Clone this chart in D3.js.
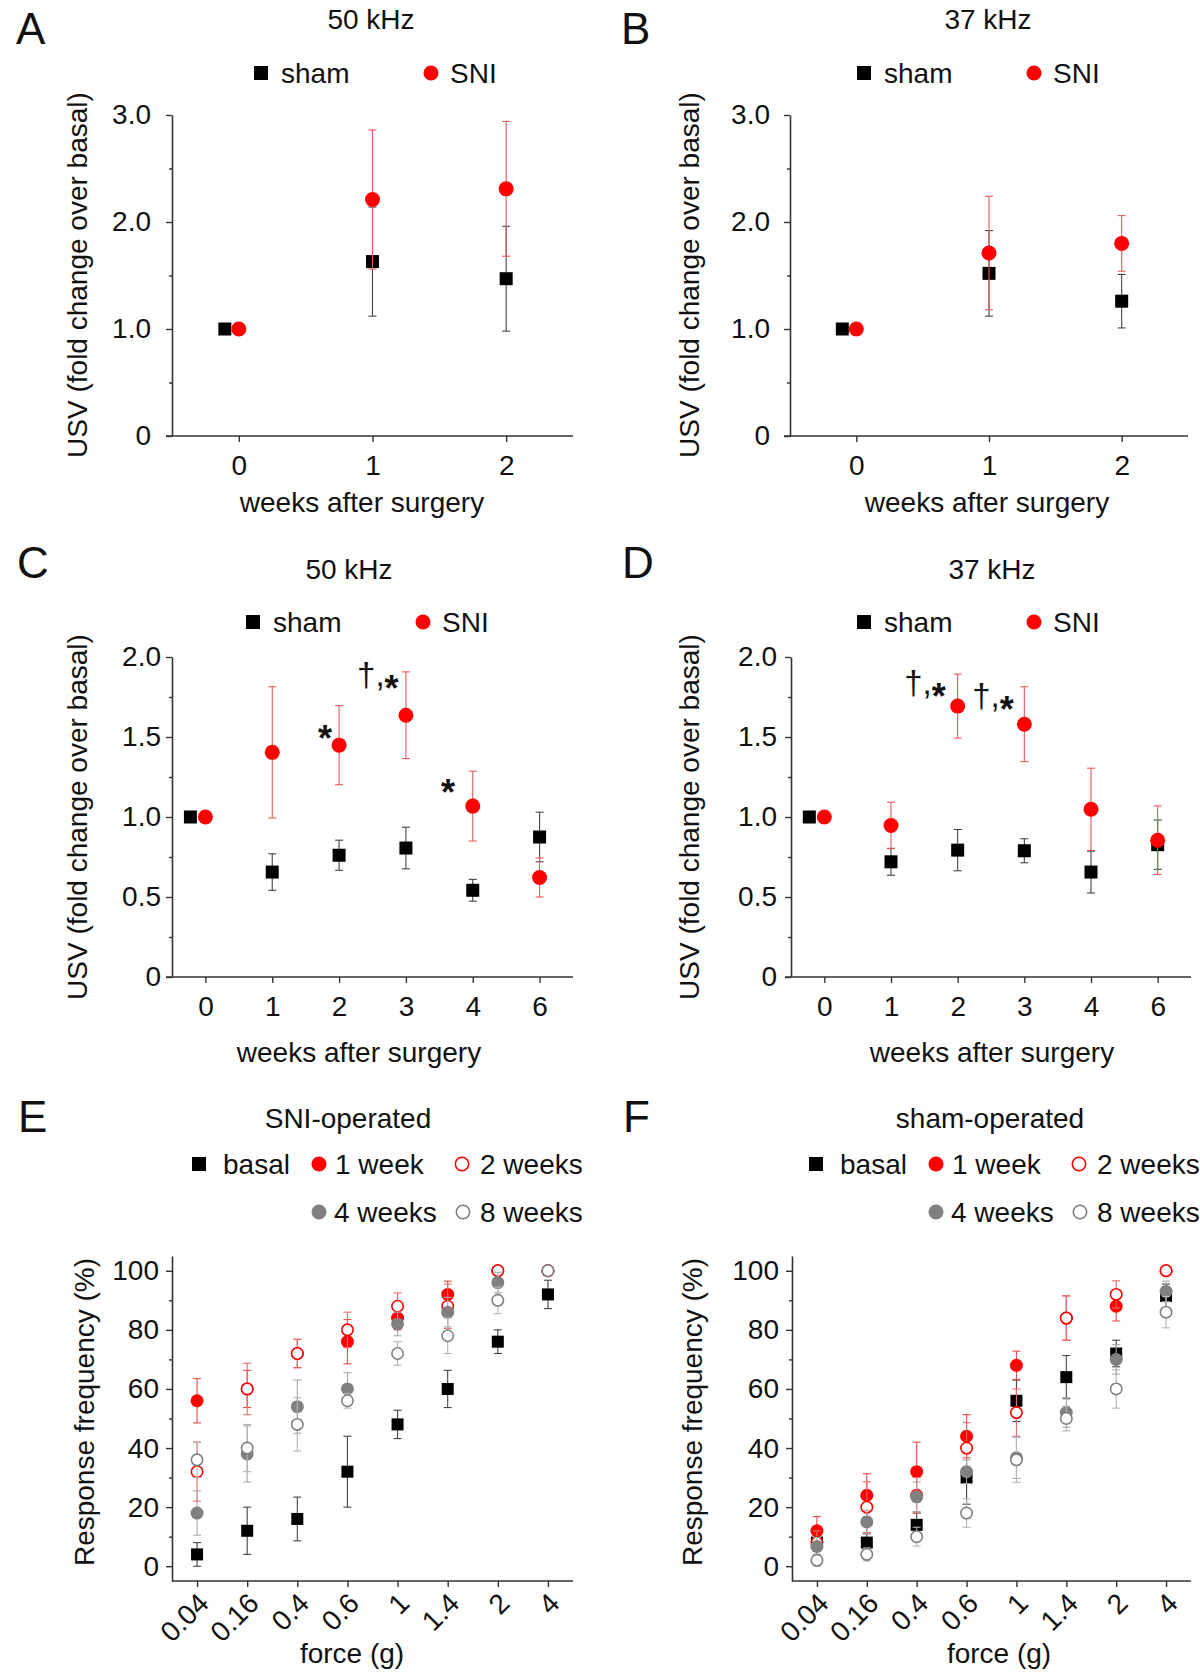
<!DOCTYPE html>
<html><head><meta charset="utf-8">
<script src="https://cdn.jsdelivr.net/npm/d3@7/dist/d3.min.js"></script>
<style>
body{margin:0;background:#fff}
svg{display:block}
text{font-family:"Liberation Sans",Arial,Helvetica,sans-serif;fill:#111}
</style>
</head><body>
<svg id="chart" width="1200" height="1672"></svg>
<script>
// ---------------- DATA ----------------
const weeksAB = ["0","1","2"];
const shamA = [1.00, 1.63, 1.47];
const shamAErr = [0, 0.51, 0.49];
const sniA = [1.00, 2.21, 2.31];
const sniAErr = [0, 0.65, 0.63];

const shamB = [1.00, 1.52, 1.26];
const shamBErr = [0, 0.40, 0.25];
const sniB = [1.00, 1.71, 1.80];
const sniBErr = [0, 0.53, 0.26];

const weeksCD = ["0","1","2","3","4","6"];
const shamC = [1.00, 0.656, 0.761, 0.806, 0.542, 0.875];
const shamCErr = [0, 0.114, 0.094, 0.130, 0.068, 0.155];
const sniC = [1.00, 1.404, 1.449, 1.636, 1.068, 0.622];
const sniCErr = [0, 0.410, 0.247, 0.271, 0.218, 0.122];

const shamD = [1.00, 0.720, 0.793, 0.789, 0.656, 0.827];
const shamDErr = [0, 0.084, 0.129, 0.075, 0.131, 0.154];
const sniD = [1.00, 0.947, 1.693, 1.580, 1.048, 0.855];
const sniDErr = [0, 0.145, 0.200, 0.234, 0.257, 0.214];

const annotC = [
  {cat:"2", off:-0.21, v:1.54, dagger:false},
  {cat:"3", off:-0.42, v:1.86, dagger:true},
  {cat:"4", off:-0.37, v:1.20, dagger:false}
];
const annotD = [
  {cat:"2", off:-0.49, v:1.81, dagger:true},
  {cat:"3", off:-0.47, v:1.73, dagger:true}
];

const forces = ["0.04","0.16","0.4","0.6","1","1.4","2","4"];
// SNI-operated (E)
const basalE = [4, 12, 16, 32, 48, 60, 76, 92];
const basalEErr = [4, 8, 7.4, 12, 4.8, 6.3, 4, 4.8];
const wk1E = [56, 60, 72, 76, 84, 92, 100, 100];
const wk1EErr = [7.5, 6.3, 4.8, 7.5, 4, 4.5, 0, 0];
const wk2E = [32, 60, 72, 80, 88, 88, 100, 100];
const wk2EErr = [10, 8.7, 4.8, 6, 4.5, 7.5, 0, 0];
const wk4E = [18, 38, 54, 60, 82, 86, 96, 100];
const wk4EErr = [7.5, 9.5, 9, 5.5, 4, 5, 3.5, 0];
const wk8E = [36, 40, 48, 56, 72, 78, 90, 100];
const wk8EErr = [6, 8, 9, 2.5, 4, 6, 4.5, 0];
// sham-operated (F)
const basalF = [8, 8, 14, 30, 56, 64, 72, 91.5];
const basalFErr = [3, 3, 4, 9, 7, 7.3, 4.5, 4];
const wk1F = [12, 24, 32, 44, 68, 84, 88, 100];
const wk1FErr = [4.8, 7.3, 10, 7.3, 4.8, 7.5, 5, 0];
const wk2F = [8, 20, 24, 40, 52, 84, 92, 100];
const wk2FErr = [4, 8.6, 6, 8.6, 8, 7.5, 4.6, 0];
const wk4F = [6.7, 15, 23.5, 32, 36.7, 52, 70, 93];
const wk4FErr = [3, 4, 5, 4, 7, 5, 5, 3.5];
const wk8F = [2, 4, 10, 18, 36, 50, 60, 86];
const wk8FErr = [2, 2.2, 3.2, 4.8, 7.6, 4.2, 6.5, 5.3];

const yTicksAB = [0, 1, 2, 3];
const yTickLabelsAB = ["0", "1.0", "2.0", "3.0"];
const yMinorAB = [0.5, 1.5, 2.5];
const yTicksCD = [0, 0.5, 1, 1.5, 2];
const yTickLabelsCD = ["0", "0.5", "1.0", "1.5", "2.0"];
const yMinorCD = [0.25, 0.75, 1.25, 1.75];
const yTicksEF = [0, 20, 40, 60, 80, 100];
const yTickLabelsEF = ["0", "20", "40", "60", "80", "100"];
const yMinorEF = [10, 30, 50, 70, 90];

// ---------------- STYLE ----------------
const RED = "#ff0000", GRAY = "#808080", BLACK = "#000000";
const FS = 28;
const AX = "#333";
const svg = d3.select("#chart");

function styleAxis(sel) {
  sel.attr("font-family", null).attr("font-size", null);
  sel.select(".domain").attr("stroke", AX).attr("stroke-width", 1.6);
  sel.selectAll(".tick line").attr("stroke", AX).attr("stroke-width", 1.4);
  sel.selectAll(".tick text").attr("font-size", FS).attr("fill", "#111");
}

function marker(g, shape, cx, cy, size, fill, stroke) {
  if (shape === "square") {
    g.append("rect").attr("x", cx - size/2).attr("y", cy - size/2)
      .attr("width", size).attr("height", size).attr("fill", fill);
  } else if (shape === "circle") {
    g.append("circle").attr("cx", cx).attr("cy", cy).attr("r", size/2).attr("fill", fill);
  } else {
    g.append("circle").attr("cx", cx).attr("cy", cy).attr("r", size/2 - 0.8)
      .attr("fill", "#fff").attr("stroke", stroke).attr("stroke-width", 1.6);
  }
}

function panel(cfg) {
  const g = svg.append("g");
  const x = d3.scalePoint().domain(cfg.cats).range([cfg.left, cfg.right]).padding(0.5);
  const y = d3.scaleLinear().domain(cfg.yDomain).range([cfg.bottom, cfg.top]);
  const y0 = y(cfg.yDomain[0]);

  // y axis
  const ya = g.append("g").attr("transform", `translate(${cfg.left},0)`)
    .call(d3.axisLeft(y).tickValues(cfg.yTicks).tickFormat((d, i) => cfg.yTickLabels[i])
      .tickSize(6).tickPadding(cfg.yPad).tickSizeOuter(0));
  styleAxis(ya);
  const ym = g.append("g").attr("transform", `translate(${cfg.left},0)`)
    .call(d3.axisLeft(y).tickValues(cfg.yMinor).tickFormat("").tickSize(3).tickSizeOuter(0));
  ym.select(".domain").remove();
  styleAxis(ym);

  // x axis
  const xa = g.append("g").attr("transform", `translate(0,${y0})`)
    .call(d3.axisBottom(x).tickSize(6).tickPadding(13).tickSizeOuter(0));
  styleAxis(xa);
  xa.select(".domain").remove();
  g.append("line").attr("x1", cfg.left - cfg.xExt).attr("x2", cfg.right)
    .attr("y1", y0).attr("y2", y0).attr("stroke", AX).attr("stroke-width", 1.6);
  if (cfg.rotate) {
    xa.selectAll(".tick text").attr("text-anchor", "end").attr("x", 0).attr("y", 0)
      .attr("dy", "0.35em").attr("transform", "translate(6,17) rotate(-45)");
  }

  // series
  cfg.series.forEach(s => {
    const sg = g.append("g");
    const pts = s.values.map((v, i) => ({c: cfg.cats[i], v: v, e: s.err[i],
      dx: (s.dodge && i === 0) ? s.dodge : 0}));
    const eg = sg.append("g").attr("stroke", s.errColor).attr("stroke-width", 1.1);
    pts.filter(d => d.e > 0).forEach(d => {
      const cx = x(d.c) + d.dx;
      eg.append("line").attr("x1", cx).attr("x2", cx).attr("y1", y(d.v - d.e)).attr("y2", y(d.v + d.e));
      [d.v - d.e, d.v + d.e].forEach(t => eg.append("line")
        .attr("x1", cx - 4).attr("x2", cx + 4).attr("y1", y(t)).attr("y2", y(t)));
    });
    pts.forEach(d => marker(sg, s.shape, x(d.c) + d.dx, y(d.v), s.shape === "square" ? cfg.sq : cfg.ci, s.fill, s.stroke));
  });

  // annotations (significance marks)
  (cfg.annot || []).forEach(a => {
    const t = g.append("text").attr("x", x(a.cat) + a.off * x.step()).attr("y", y(a.v))
      .attr("text-anchor", "middle").attr("font-size", 33);
    if (a.dagger) {
      t.attr("dy", 7);
      t.append("tspan").text("†,");
      t.append("tspan").attr("font-weight", "bold").attr("font-size", 36).attr("dy", 15).text("*");
    } else {
      t.attr("dy", 20).append("tspan").attr("font-weight", "bold").attr("font-size", 36).text("*");
    }
  });

  // labels
  g.append("text").attr("text-anchor", "middle").attr("font-size", FS)
    .attr("transform", `translate(${cfg.yLabelX},${cfg.yLabelY}) rotate(-90)`)
    .attr("dy", "0.35em").text(cfg.yLabel);
  g.append("text").attr("text-anchor", "middle").attr("font-size", FS)
    .attr("x", cfg.xLabelX).attr("y", cfg.xLabelY).text(cfg.xLabel);
  g.append("text").attr("text-anchor", "middle").attr("font-size", FS)
    .attr("x", cfg.titleX).attr("y", cfg.titleY).text(cfg.title);
  g.append("text").attr("font-size", 44).attr("x", cfg.letterX).attr("y", cfg.letterY).text(cfg.letter);

  // legend
  cfg.legend.forEach(l => {
    marker(g, l.shape, l.mx, l.y, l.shape === "square" ? 14 : 15, l.fill, l.stroke);
    g.append("text").attr("x", l.tx).attr("y", l.y).attr("dy", "0.36em")
      .attr("font-size", FS).text(l.label);
  });
}

const yLabUSV = "USV (fold change over basal)";
const xLabWeeks = "weeks after surgery";

function usvLegend(x0, y) {
  return [
    {shape:"square", fill:BLACK, mx:x0, tx:x0 + 20, y:y, label:"sham"},
    {shape:"circle", fill:RED, mx:x0 + 170, tx:x0 + 189, y:y, label:"SNI"}
  ];
}
function vfLegend(x0, y1, y2) {
  return [
    {shape:"square", fill:BLACK, mx:x0, tx:x0 + 24, y:y1, label:"basal"},
    {shape:"circle", fill:RED, mx:x0 + 120, tx:x0 + 136, y:y1, label:"1 week"},
    {shape:"open", stroke:RED, mx:x0 + 263, tx:x0 + 281, y:y1, label:"2 weeks"},
    {shape:"circle", fill:GRAY, mx:x0 + 120, tx:x0 + 135, y:y2, label:"4 weeks"},
    {shape:"open", stroke:GRAY, mx:x0 + 264, tx:x0 + 281, y:y2, label:"8 weeks"}
  ];
}

// A
panel({cats:weeksAB, left:172, right:573, top:115, bottom:436, yDomain:[0,3],
  yTicks:yTicksAB, yTickLabels:yTickLabelsAB, yMinor:yMinorAB, yPad:15, xExt:6, sq:13, ci:15,
  series:[
    {values:shamA, err:shamAErr, shape:"square", fill:BLACK, errColor:"#444", dodge:-14},
    {values:sniA, err:sniAErr, shape:"circle", fill:RED, errColor:"#e85a5a"}
  ],
  yLabel:yLabUSV, yLabelX:77, yLabelY:275, xLabel:xLabWeeks, xLabelX:362, xLabelY:512,
  title:"50 kHz", titleX:371, titleY:29, letter:"A", letterX:16, letterY:44,
  legend:usvLegend(261, 73)});

// B
panel({cats:weeksAB, left:790, right:1188, top:115, bottom:436, yDomain:[0,3],
  yTicks:yTicksAB, yTickLabels:yTickLabelsAB, yMinor:yMinorAB, yPad:14, xExt:6, sq:13, ci:15,
  series:[
    {values:shamB, err:shamBErr, shape:"square", fill:BLACK, errColor:"#444", dodge:-14},
    {values:sniB, err:sniBErr, shape:"circle", fill:RED, errColor:"#e85a5a"}
  ],
  yLabel:yLabUSV, yLabelX:689, yLabelY:275, xLabel:xLabWeeks, xLabelX:987, xLabelY:512,
  title:"37 kHz", titleX:988, titleY:29, letter:"B", letterX:621, letterY:44,
  legend:usvLegend(864, 73)});

// C
panel({cats:weeksCD, left:172, right:573, top:657, bottom:977, yDomain:[0,2],
  yTicks:yTicksCD, yTickLabels:yTickLabelsCD, yMinor:yMinorCD, yPad:5, xExt:6, sq:13, ci:15,
  series:[
    {values:shamC, err:shamCErr, shape:"square", fill:BLACK, errColor:"#444", dodge:-15},
    {values:sniC, err:sniCErr, shape:"circle", fill:RED, errColor:"#e85a5a"}
  ],
  annot:annotC,
  yLabel:yLabUSV, yLabelX:77, yLabelY:817, xLabel:xLabWeeks, xLabelX:359, xLabelY:1062,
  title:"50 kHz", titleX:349, titleY:579, letter:"C", letterX:17, letterY:578,
  legend:usvLegend(253, 622)});

// D
panel({cats:weeksCD, left:791, right:1191, top:657, bottom:977, yDomain:[0,2],
  yTicks:yTicksCD, yTickLabels:yTickLabelsCD, yMinor:yMinorCD, yPad:8, xExt:6, sq:13, ci:15,
  series:[
    {values:shamD, err:shamDErr, shape:"square", fill:BLACK, errColor:"#444", dodge:-15},
    {values:sniD, err:sniDErr, shape:"circle", fill:RED, errColor:"#e85a5a"}
  ],
  annot:annotD,
  yLabel:yLabUSV, yLabelX:689, yLabelY:817, xLabel:xLabWeeks, xLabelX:992, xLabelY:1062,
  title:"37 kHz", titleX:992, titleY:579, letter:"D", letterX:622, letterY:578,
  legend:usvLegend(864, 622)});

// E
panel({cats:forces, left:172, right:573, top:1256, bottom:1581, yDomain:[-5,105],
  yTicks:yTicksEF, yTickLabels:yTickLabelsEF, yMinor:yMinorEF, yPad:7, xExt:0, sq:12, ci:13, rotate:true,
  series:[
    {values:basalE, err:basalEErr, shape:"square", fill:BLACK, errColor:"#444"},
    {values:wk1E, err:wk1EErr, shape:"circle", fill:RED, errColor:"#e84a4a"},
    {values:wk2E, err:wk2EErr, shape:"open", stroke:RED, errColor:"#ee6a6a"},
    {values:wk4E, err:wk4EErr, shape:"circle", fill:GRAY, errColor:"#a8a8a8"},
    {values:wk8E, err:wk8EErr, shape:"open", stroke:GRAY, errColor:"#b4b4b4"}
  ],
  yLabel:"Response frequency (%)", yLabelX:84, yLabelY:1412, xLabel:"force (g)", xLabelX:352, xLabelY:1663,
  title:"SNI-operated", titleX:348, titleY:1128, letter:"E", letterX:18, letterY:1132,
  legend:vfLegend(199, 1164, 1212)});

// F
panel({cats:forces, left:792, right:1191, top:1256, bottom:1581, yDomain:[-5,105],
  yTicks:yTicksEF, yTickLabels:yTickLabelsEF, yMinor:yMinorEF, yPad:7, xExt:0, sq:12, ci:13, rotate:true,
  series:[
    {values:basalF, err:basalFErr, shape:"square", fill:BLACK, errColor:"#444"},
    {values:wk1F, err:wk1FErr, shape:"circle", fill:RED, errColor:"#e84a4a"},
    {values:wk2F, err:wk2FErr, shape:"open", stroke:RED, errColor:"#ee6a6a"},
    {values:wk4F, err:wk4FErr, shape:"circle", fill:GRAY, errColor:"#a8a8a8"},
    {values:wk8F, err:wk8FErr, shape:"open", stroke:GRAY, errColor:"#b4b4b4"}
  ],
  yLabel:"Response frequency (%)", yLabelX:692, yLabelY:1412, xLabel:"force (g)", xLabelX:999, xLabelY:1663,
  title:"sham-operated", titleX:990, titleY:1128, letter:"F", letterX:623, letterY:1132,
  legend:vfLegend(816, 1164, 1212)});
</script>
</body></html>
